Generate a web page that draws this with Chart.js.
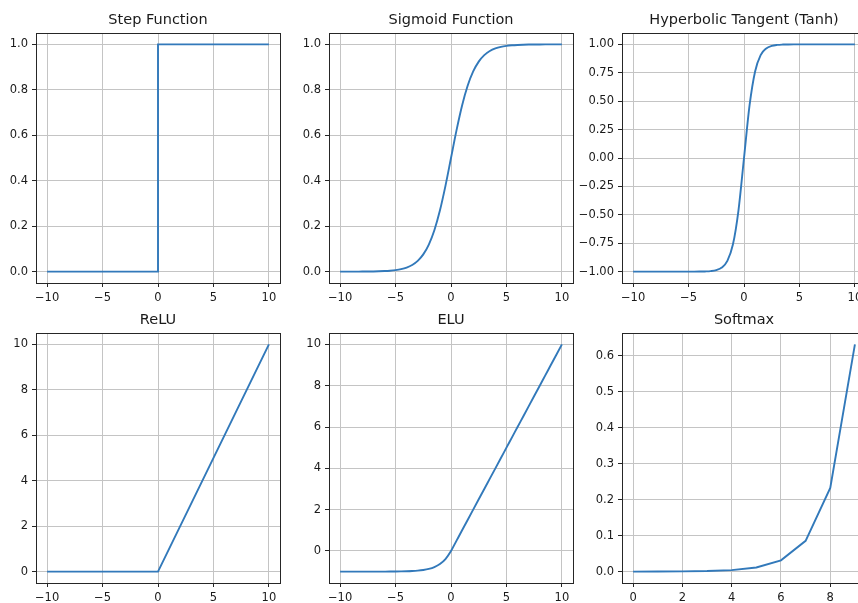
<!DOCTYPE html>
<html lang="en">
<head>
    <meta charset="UTF-8">
    <title>Activation Functions</title>
    <script src="https://cdn.jsdelivr.net/npm/chart.js"></script>
    <style>
        body {
            margin: 0;
            background: #ffffff;
            width: 858px;
            height: 603px;
            overflow: hidden;
            position: relative;
        }
        canvas {
            position: absolute;
        }
    </style>
</head>
<body>
    <canvas id="stepChart" width="299" height="303" style="left:-9px; top:0px"></canvas>
    <canvas id="sigmoidChart" width="299" height="303" style="left:284px; top:0px"></canvas>
    <canvas id="tanhChart" width="299" height="303" style="left:577px; top:0px"></canvas>
    <canvas id="reluChart" width="299" height="303" style="left:-9px; top:300px"></canvas>
    <canvas id="eluChart" width="299" height="303" style="left:284px; top:300px"></canvas>
    <canvas id="softmaxChart" width="299" height="303" style="left:577px; top:300px"></canvas>

    <script>
        // x samples used by the smooth curves (read every 0.5)
        const xs = [-10, -9.5, -9, -8.5, -8, -7.5, -7, -6.5, -6, -5.5, -5, -4.5, -4, -3.5, -3, -2.5, -2, -1.5, -1, -0.5,
                    0, 0.5, 1, 1.5, 2, 2.5, 3, 3.5, 4, 4.5, 5, 5.5, 6, 6.5, 7, 7.5, 8, 8.5, 9, 9.5, 10];

        const stepX = [-10, 0, 0, 10];
        const stepY = [0, 0, 1, 1];

        const sigmoidY = [0.0000, 0.0001, 0.0001, 0.0002, 0.0003, 0.0006, 0.0009, 0.0015, 0.0025, 0.0041,
                          0.0067, 0.0110, 0.0180, 0.0293, 0.0474, 0.0759, 0.1192, 0.1824, 0.2689, 0.3775,
                          0.5000, 0.6225, 0.7311, 0.8176, 0.8808, 0.9241, 0.9526, 0.9707, 0.9820, 0.9890,
                          0.9933, 0.9959, 0.9975, 0.9985, 0.9991, 0.9994, 0.9997, 0.9998, 0.9999, 0.9999, 1.0000];

        const tanhY = [-1.0000, -1.0000, -1.0000, -1.0000, -1.0000, -1.0000, -1.0000, -1.0000, -1.0000, -1.0000,
                       -0.9999, -0.9998, -0.9993, -0.9982, -0.9951, -0.9866, -0.9640, -0.9051, -0.7616, -0.4621,
                       0.0000, 0.4621, 0.7616, 0.9051, 0.9640, 0.9866, 0.9951, 0.9982, 0.9993, 0.9998,
                       0.9999, 1.0000, 1.0000, 1.0000, 1.0000, 1.0000, 1.0000, 1.0000, 1.0000, 1.0000, 1.0000];

        const reluX = [-10, 0, 10];
        const reluY = [0, 0, 10];

        const eluY = [-1.0000, -0.9999, -0.9999, -0.9998, -0.9997, -0.9994, -0.9991, -0.9985, -0.9975, -0.9959,
                      -0.9933, -0.9889, -0.9817, -0.9698, -0.9502, -0.9179, -0.8647, -0.7769, -0.6321, -0.3935,
                      0, 0.5, 1, 1.5, 2, 2.5, 3, 3.5, 4, 4.5, 5, 5.5, 6, 6.5, 7, 7.5, 8, 8.5, 9, 9.5, 10];

        const softmaxX = [0, 1, 2, 3, 4, 5, 6, 7, 8, 9];
        const softmaxY = [0.0001, 0.0002, 0.0006, 0.0016, 0.0043, 0.0116, 0.0315, 0.0856, 0.2326, 0.6321];

        // tick values
        const symTicks = [-10, -5, 0, 5, 10];
        const unitTicks = [0, 0.2, 0.4, 0.6, 0.8, 1.0];
        const tanhTicks = [-1, -0.75, -0.5, -0.25, 0, 0.25, 0.5, 0.75, 1];
        const tenTicks = [0, 2, 4, 6, 8, 10];
        const softmaxXTicks = [0, 2, 4, 6, 8];
        const softmaxYTicks = [0, 0.1, 0.2, 0.3, 0.4, 0.5, 0.6];

        const lineColor = '#3279ba';
        const textColor = '#1a1a1a';
        const fontFamily = "'DejaVu Sans', sans-serif";

        function fmt(v, dec) {
            return v.toFixed(dec).replace('-', '\u2212');
        }

        // dark frame around plot area (matplotlib spines)
        const framePlugin = {
            id: 'frame',
            afterDatasetsDraw(chart) {
                const a = chart.chartArea;
                const ctx = chart.ctx;
                ctx.save();
                ctx.strokeStyle = '#262626';
                ctx.lineWidth = 1;
                ctx.strokeRect(Math.round(a.left) + 0.5, Math.round(a.top) + 0.5,
                               Math.round(a.right - a.left), Math.round(a.bottom - a.top));
                ctx.restore();
            }
        };

        function axis(min, max, ticks, dec, isX) {
            return {
                type: 'linear',
                min: min,
                max: max,
                afterBuildTicks: function(scale) {
                    scale.ticks = ticks.map(v => ({ value: v }));
                },
                afterFit: function(scale) {
                    if (isX) scale.height = 20;
                    else scale.width = 45;
                },
                grid: {
                    color: '#c4c4c4',
                    lineWidth: 1,
                    drawTicks: true,
                    tickLength: 4,
                    tickColor: '#262626',
                    tickWidth: 1
                },
                border: { display: false },
                ticks: {
                    autoSkip: false,
                    maxRotation: 0,
                    padding: 4,
                    color: textColor,
                    font: { family: fontFamily, size: 11.5 },
                    callback: function(value) { return fmt(value, dec); }
                }
            };
        }

        function makeChart(id, title, xData, yData, xAxis, yAxis, smooth) {
            const points = xData.map((x, i) => ({ x: x, y: yData[i] }));
            new Chart(document.getElementById(id), {
                type: 'line',
                data: {
                    datasets: [{
                        data: points,
                        borderColor: lineColor,
                        borderWidth: 1.9,
                        pointRadius: 0,
                        fill: false,
                        tension: 0,
                        cubicInterpolationMode: smooth ? 'monotone' : 'default'
                    }]
                },
                options: {
                    responsive: false,
                    animation: false,
                    events: [],
                    layout: { padding: { left: 0, right: 10, top: 0, bottom: 0 } },
                    scales: { x: xAxis, y: yAxis },
                    plugins: {
                        legend: { display: false },
                        tooltip: { enabled: false },
                        title: {
                            display: true,
                            text: title,
                            fullSize: false,
                            color: textColor,
                            font: { family: fontFamily, size: 14.5, weight: 'normal', lineHeight: '20px' },
                            padding: { top: 10.5, bottom: 2.5 }
                        }
                    }
                },
                plugins: [framePlugin]
            });
        }

        makeChart('stepChart', 'Step Function', stepX, stepY,
            axis(-11, 11, symTicks, 0, true), axis(-0.05, 1.05, unitTicks, 1, false), false);
        makeChart('sigmoidChart', 'Sigmoid Function', xs, sigmoidY,
            axis(-11, 11, symTicks, 0, true), axis(-0.05, 1.05, unitTicks, 1, false), true);
        makeChart('tanhChart', 'Hyperbolic Tangent (Tanh)', xs, tanhY,
            axis(-11, 11, symTicks, 0, true), axis(-1.1, 1.1, tanhTicks, 2, false), true);
        makeChart('reluChart', 'ReLU', reluX, reluY,
            axis(-11, 11, symTicks, 0, true), axis(-0.5, 10.5, tenTicks, 0, false), false);
        makeChart('eluChart', 'ELU', xs, eluY,
            axis(-11, 11, symTicks, 0, true), axis(-1.55, 10.55, tenTicks, 0, false), true);
        makeChart('softmaxChart', 'Softmax', softmaxX, softmaxY,
            axis(-0.45, 9.45, softmaxXTicks, 0, true), axis(-0.0316, 0.6637, softmaxYTicks, 1, false), false);
    </script>
</body>
</html>
